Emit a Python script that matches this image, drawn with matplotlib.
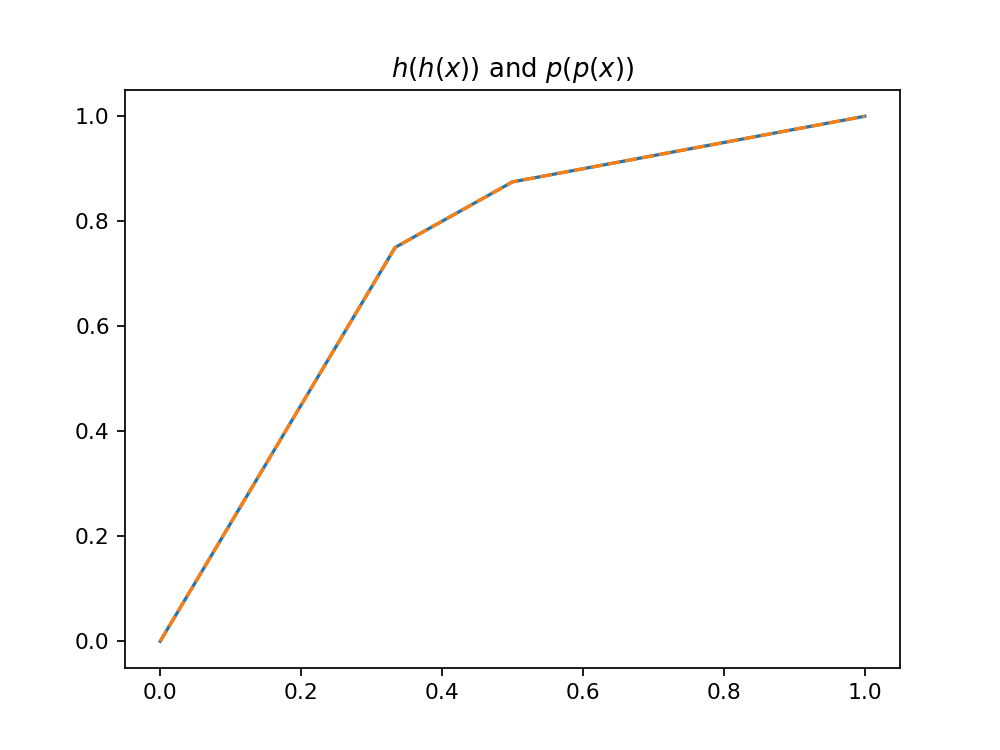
import matplotlib
matplotlib.use('Agg')
import matplotlib.pyplot as plt

# breakpoints of h(h(x)) and p(p(x))
x = [0.0, 1/3, 0.5, 1.0]
hh = [0.0, 0.75, 0.875, 1.0]
pp = [0.0, 0.75, 0.875, 1.0]

fig = plt.figure(figsize=(6.4, 4.8), dpi=156.25)
plt.plot(x, hh)
plt.plot(x, pp, linestyle='--')
plt.title(r'$h(h(x))$ and $p(p(x))$')
plt.savefig('out.png')
